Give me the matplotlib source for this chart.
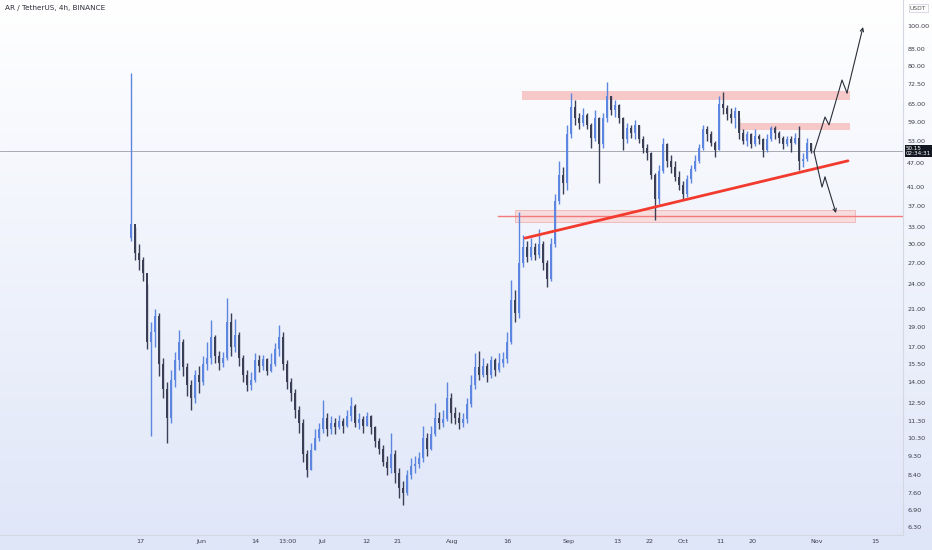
import numpy as np
import matplotlib
matplotlib.use("Agg")
import matplotlib.pyplot as plt
from matplotlib.colors import LinearSegmentedColormap
from matplotlib.transforms import blended_transform_factory

# AR/USDT, squeezed to about one candle per day
first_open = 31.0
closes = [33.5, 28.5, 27.5, 25.5, 17.5, 18.5, 20.2, 15.5, 13.5, 11.5,
          14.2, 15.8, 17.5, 15.2, 13.8, 12.8, 14.6, 14.0, 15.5, 16.0,
          18.0, 16.2, 15.6, 16.0, 19.5, 17.0, 18.2, 16.0, 14.6, 13.8,
          14.2, 15.8, 15.3, 15.9, 14.9, 15.5, 16.8, 18.0, 15.5, 14.0,
          13.2, 12.0, 11.2, 9.4, 8.6, 9.6, 10.3, 10.8, 11.5, 10.8,
          11.2, 10.9, 11.3, 11.0, 11.6, 12.3, 11.2, 11.4, 11.0, 11.6,
          10.9, 10.1, 9.7, 9.0, 8.7, 9.4, 8.5, 7.8, 7.6, 8.4,
          8.8, 8.9, 9.2, 10.3, 9.7, 10.5, 11.5, 11.2, 11.4, 12.8,
          11.8, 11.5, 11.2, 11.4, 12.4, 13.8, 15.2, 14.6, 15.3, 14.6,
          15.8, 15.0, 15.6, 15.9, 17.5, 22.0, 20.5, 27.0, 29.5, 28.0,
          29.5, 28.3, 30.0, 27.0, 24.8, 30.0, 38.0, 44.0, 42.0, 55.0,
          64.0, 60.0, 58.5, 61.0, 58.0, 54.0, 60.0, 52.0, 60.0, 68.0,
          63.0, 64.5, 60.0, 53.5, 57.0, 55.5, 58.0, 53.5, 51.0, 49.5,
          44.0, 38.5, 45.0, 52.0, 47.5, 46.0, 43.5, 41.5, 39.5, 43.0,
          45.5, 47.5, 51.0, 56.5, 55.0, 52.5, 50.5, 65.0, 63.5, 61.5,
          60.0, 62.5, 55.5, 53.0, 55.0, 52.0, 54.5, 53.5, 50.5, 53.5,
          57.0, 55.5, 54.0, 52.0, 53.5, 52.5, 54.0, 47.5, 48.0, 52.5,
          50.15]
highs = [77.0, 33.0, 30.0, 28.0, 24.0, 19.5, 21.0, 20.5, 16.0, 14.0,
         15.0, 16.5, 18.7, 17.8, 15.6, 14.2, 15.0, 15.3, 16.2, 17.5,
         19.7, 18.2, 16.6, 16.5, 22.3, 20.5, 19.8, 18.5, 16.3, 15.0,
         14.8, 16.4, 16.3, 16.3, 16.0, 16.4, 17.4, 19.2, 18.5, 15.8,
         14.3, 13.5, 12.3, 11.4, 9.6, 10.0, 10.8, 11.2, 12.7, 11.8,
         11.6, 11.5, 11.7, 11.5, 12.0, 12.9, 12.4, 11.8, 11.6, 11.9,
         11.7, 11.0, 10.3, 9.9, 9.3, 10.6, 9.6, 8.7, 8.1, 8.6,
         9.2, 9.3, 9.5, 11.0, 10.6, 11.0, 12.5, 11.9, 12.0, 14.0,
         13.2, 12.2, 11.9, 11.8, 12.8, 14.6, 16.4, 16.6, 16.0, 15.6,
         16.2, 16.0, 16.4, 16.5, 18.5, 24.6, 23.3, 35.8, 31.5, 30.5,
         31.0, 30.2, 32.6, 30.5, 27.5, 31.0, 39.5, 47.5, 46.0, 58.0,
         69.0, 66.5, 62.0, 63.5, 62.0, 58.5, 63.0, 60.5, 62.0, 73.5,
         68.0, 66.5, 65.0, 60.5, 58.5, 58.0, 59.5, 58.0, 54.5, 52.0,
         50.0, 44.5, 46.5, 54.0, 52.5, 49.0, 47.5, 45.0, 42.5, 44.0,
         46.5, 49.0, 52.0, 58.0, 57.5, 56.0, 53.0, 68.0, 69.4, 64.5,
         63.5, 64.0, 60.0, 56.5, 56.0, 55.5, 56.5, 55.0, 54.0, 55.0,
         57.5, 57.5, 56.0, 54.5, 54.5, 54.5, 55.5, 57.5, 49.5, 54.0,
         52.5]
lows = [30.5, 27.5, 26.0, 24.5, 16.8, 10.4, 17.0, 14.5, 12.8, 10.0,
        11.2, 13.6, 15.0, 14.5, 13.0, 12.0, 12.5, 13.2, 13.8, 15.0,
        15.5, 15.6, 15.0, 15.2, 15.8, 16.2, 16.5, 15.3, 14.0, 13.3,
        13.4, 14.0, 14.8, 15.0, 14.6, 14.8, 15.3, 16.2, 15.0, 13.5,
        12.6, 11.5, 10.6, 9.0, 8.3, 8.6, 9.6, 10.1, 10.6, 10.4,
        10.5, 10.5, 10.8, 10.6, 10.9, 11.3, 10.9, 10.8, 10.6, 11.0,
        10.5, 9.8, 9.4, 8.8, 8.4, 8.5, 8.0, 7.4, 7.1, 7.5,
        8.2, 8.5, 8.7, 9.0, 9.3, 9.6, 10.4, 10.8, 10.9, 11.3,
        11.2, 11.1, 10.8, 10.9, 11.2, 12.2, 13.5, 14.2, 14.4, 14.0,
        14.3, 14.5, 14.8, 15.2, 15.6, 17.3, 19.5, 20.0, 26.5, 27.2,
        27.5, 27.5, 27.8, 26.0, 23.7, 24.5, 29.5, 37.5, 39.5, 40.5,
        54.0, 58.0, 56.5, 57.5, 56.5, 51.0, 53.0, 42.0, 51.0, 59.0,
        61.0, 60.5, 58.5, 50.4, 52.5, 54.0, 53.5, 52.5, 49.5, 47.7,
        43.0, 34.3, 37.5, 44.5, 46.0, 44.5, 42.5, 40.5, 38.3, 39.0,
        42.0, 45.0, 47.0, 50.5, 53.0, 51.5, 48.5, 50.5, 61.5, 59.5,
        58.5, 57.0, 53.5, 52.0, 51.5, 51.0, 51.5, 52.0, 48.5, 50.0,
        53.0, 53.5, 52.5, 50.8, 51.5, 50.0, 52.0, 45.2, 46.0, 47.5,
        49.5]
last_price = 50.15
last_price_label = "50.15\n02:34:31"

x_tick_pos = [2.25, 17.5, 31, 39, 47.75, 58.75, 66.75, 80.25, 94, 109.5,
              121.5, 129.75, 138, 147.25, 155.5, 171.5, 186]
x_tick_labels = ["17", "Jun", "14", "13:00", "Jul", "12", "21", "Aug", "16", "Sep",
                 "13", "22", "Oct", "11", "20", "Nov", "15"]
y_ticks = [100, 88, 80, 72.5, 65, 59, 53, 47, 41, 37, 33, 30, 27, 24, 21, 19,
           17, 15.5, 14, 12.5, 11.3, 10.3, 9.3, 8.4, 7.6, 6.9, 6.3]

# drawings on the chart (bar index, price)
zone_top = (97.75, 179.75, 66.6, 69.9)
zone_mid = (151.75, 179.75, 56.3, 58.5)
zone_low = (96.0, 181.0, 33.8, 36.2)
support_level = (91.75, 35.0)
trend_x = [98.5, 179.25]
trend_y = [31.0, 47.5]
up_path_x = [170.75, 173.5, 174.5, 177.75, 179.0, 183.0]
up_path_y = [49.9, 60.5, 57.9, 74.2, 69.1, 99.4]
down_path_x = [170.75, 172.75, 173.5, 176.25]
down_path_y = [49.9, 41.1, 43.4, 35.6]

up_col = "#5d86e0"
down_col = "#3a3f55"

fig = plt.figure(figsize=(9.32, 5.5), dpi=100)

# background gradient
bg = fig.add_axes([0, 0, 1, 1], zorder=-5)
grad = np.linspace(0, 1, 256).reshape(-1, 1)
cmap = LinearSegmentedColormap.from_list("bg", ["#ffffff", "#dfe6f8"])
bg.imshow(grad, aspect="auto", cmap=cmap, extent=[0, 1, 0, 1], origin="upper")
bg.axis("off")

ax = fig.add_axes([0, 15 / 550, 903 / 932, 535 / 550])
ax.set_facecolor("none")
ax.set_yscale("log")

closes = np.array(closes)
opens = np.concatenate([[first_open], closes[:-1]])
idx = np.arange(len(closes))
cols = [up_col if c >= o else down_col for o, c in zip(opens, closes)]
ax.vlines(idx, lows, highs, colors=cols, lw=1.0, zorder=3)
ax.bar(idx, np.abs(closes - opens), bottom=np.minimum(opens, closes),
       width=0.55, color=cols, zorder=3)

# zones
for (x0, x1, y0, y1), fc, ec in [(zone_top, "#f7c3c3", "none"),
                                 (zone_mid, "#f7c3c3", "none"),
                                 (zone_low, "#f8dada", "#efb0b0")]:
    ax.fill_between([x0, x1], y0, y1, facecolor=fc, edgecolor=ec, lw=0.6, alpha=0.9, zorder=2)
ax.plot([support_level[0], 195], [support_level[1]] * 2, color="#f27a7a", lw=1.0, zorder=2)
ax.plot(trend_x, trend_y, color="#f23b2e", lw=2.0, zorder=4, solid_capstyle="round")

# last price line
ax.axhline(last_price, color="#9a9ea8", lw=0.6, zorder=1)

# forecast arrows
for px, py in [(up_path_x, up_path_y), (down_path_x, down_path_y)]:
    ax.plot(px[:-1], py[:-1], color="#2a2e39", lw=0.8, zorder=5)
    ax.annotate("", xy=(px[-1], py[-1]), xytext=(px[-2], py[-2]),
                arrowprops=dict(arrowstyle="->", color="#2a2e39", lw=0.8,
                                shrinkA=0, shrinkB=0, mutation_scale=6), zorder=5)

ax.set_xlim(-32.75, 193)
ax.set_ylim(6.02, 115.4)

ax.yaxis.tick_right()
ax.set_yticks(y_ticks)
ax.set_yticklabels(["%.2f" % v for v in y_ticks])
ax.yaxis.set_minor_locator(matplotlib.ticker.NullLocator())
ax.set_xticks(x_tick_pos)
ax.set_xticklabels(x_tick_labels)
ax.tick_params(axis="both", length=0, labelsize=4.6, labelcolor="#3a3e48")
ax.tick_params(axis="y", pad=3)
ax.tick_params(axis="x", pad=3)
for s in ["top", "left"]:
    ax.spines[s].set_visible(False)
for s in ["right", "bottom"]:
    ax.spines[s].set_color("#d3d8e2")
    ax.spines[s].set_linewidth(0.8)

# price label on axis
tr = blended_transform_factory(ax.transAxes, ax.transData)
ax.text(1.003, last_price, last_price_label, transform=tr, color="white",
        fontsize=4.1, va="center", ha="left", linespacing=1.1, zorder=10,
        bbox=dict(boxstyle="square,pad=0.2", fc="#131722", ec="none"), clip_on=False)

fig.text(5 / 932, 1 - 8 / 550, "AR / TetherUS, 4h, BINANCE", fontsize=5.2,
         color="#2a2e39", va="center", ha="left")
fig.text(910 / 932, 1 - 8 / 550, "USDT", fontsize=4.3, color="#555", va="center", ha="left",
         bbox=dict(boxstyle="square,pad=0.25", fc="white", ec="#c9ced8", lw=0.5))

fig.savefig("out.png", dpi=100)
